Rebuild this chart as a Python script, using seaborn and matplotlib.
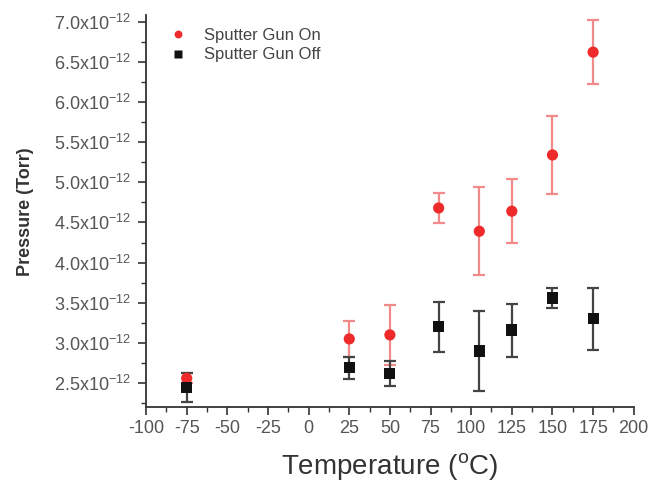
import numpy as np
import pandas as pd
import seaborn as sns
import matplotlib
matplotlib.use('Agg')
from matplotlib import pyplot as plt
from matplotlib.ticker import MultipleLocator, FuncFormatter

# values (pressure in units of 1e-12 Torr)
temp_on = [-75, 25, 50, 80, 105, 125, 150, 175]
press_on = [2.56, 3.05, 3.10, 4.68, 4.39, 4.64, 5.34, 6.62]
err_on = [0.06, 0.22, 0.37, 0.19, 0.55, 0.40, 0.49, 0.40]

temp_off = [-75, 25, 50, 80, 105, 125, 150, 175]
press_off = [2.45, 2.69, 2.62, 3.20, 2.90, 3.16, 3.56, 3.30]
err_off = [0.18, 0.14, 0.15, 0.31, 0.50, 0.33, 0.125, 0.39]

labels = ['Sputter Gun On', 'Sputter Gun Off']

df = pd.concat([
    pd.DataFrame(dict(temp=temp_on, pressure=press_on, err=err_on, series=labels[0])),
    pd.DataFrame(dict(temp=temp_off, pressure=press_off, err=err_off, series=labels[1])),
])

sns.set_style('ticks')
plt.rcParams['font.family'] = ['Liberation Sans', 'DejaVu Sans']
plt.rcParams['mathtext.fontset'] = 'custom'
plt.rcParams['mathtext.rm'] = 'Liberation Sans'

fig = plt.figure(figsize=(6.52, 4.9), dpi=100)
ax = fig.add_axes([0.224, 0.169, 0.748, 0.8])

red = '#ee2a2a'
redbar = '#f38a8a'
black = '#111111'

sub_on = df[df['series'] == labels[0]]
sub_off = df[df['series'] == labels[1]]
ax.errorbar(sub_on['temp'], sub_on['pressure'], yerr=sub_on['err'], fmt='none',
            ecolor=redbar, elinewidth=1.6, capsize=4, capthick=1.6, zorder=2)
ax.errorbar(sub_off['temp'], sub_off['pressure'], yerr=sub_off['err'], fmt='none',
            ecolor='#444444', elinewidth=1.6, capsize=4, capthick=1.6, zorder=3)

sns.scatterplot(data=df, x='temp', y='pressure', hue='series', style='series',
                markers={labels[0]: 'o', labels[1]: 's'},
                palette={labels[0]: red, labels[1]: black},
                s=65, edgecolor='none', ax=ax, zorder=4)

ax.set_xlim(-100, 200)
ax.set_ylim(2.2, 7.08)
ax.xaxis.set_major_locator(MultipleLocator(25))
ax.xaxis.set_minor_locator(MultipleLocator(12.5))
ax.yaxis.set_major_locator(MultipleLocator(0.5))
ax.yaxis.set_minor_locator(MultipleLocator(0.25))
ax.yaxis.set_major_formatter(FuncFormatter(lambda v, p: r'$\mathregular{%.1fx10^{-12}}$' % v))
ax.xaxis.set_major_formatter(FuncFormatter(lambda v, p: '%d' % v))

for s in ['top', 'right']:
    ax.spines[s].set_visible(False)
for s in ['left', 'bottom']:
    ax.spines[s].set_color('#333333')
    ax.spines[s].set_linewidth(1.3)

ax.tick_params(which='major', direction='out', length=6, width=1.2, colors='#333333',
               labelcolor='#555555', labelsize=13)
ax.tick_params(which='minor', direction='out', length=3.5, width=1.0, colors='#333333')
ax.tick_params(axis='y', pad=5)

ax.set_xlabel(r'Temperature ($\mathregular{^oC}$)', fontsize=20, color='#333333', labelpad=10)
ax.set_ylabel('Pressure (Torr)', fontsize=13, fontweight='bold', color='#333333', labelpad=14)

handles, lbls = ax.get_legend_handles_labels()
ax.legend(handles=handles, labels=lbls, loc='upper left', bbox_to_anchor=(0.0, 1.005),
          frameon=False, fontsize=12, handletextpad=0.6, labelspacing=0.25,
          markerscale=0.7, labelcolor='#444444')

fig.savefig('out.png', dpi=100)
